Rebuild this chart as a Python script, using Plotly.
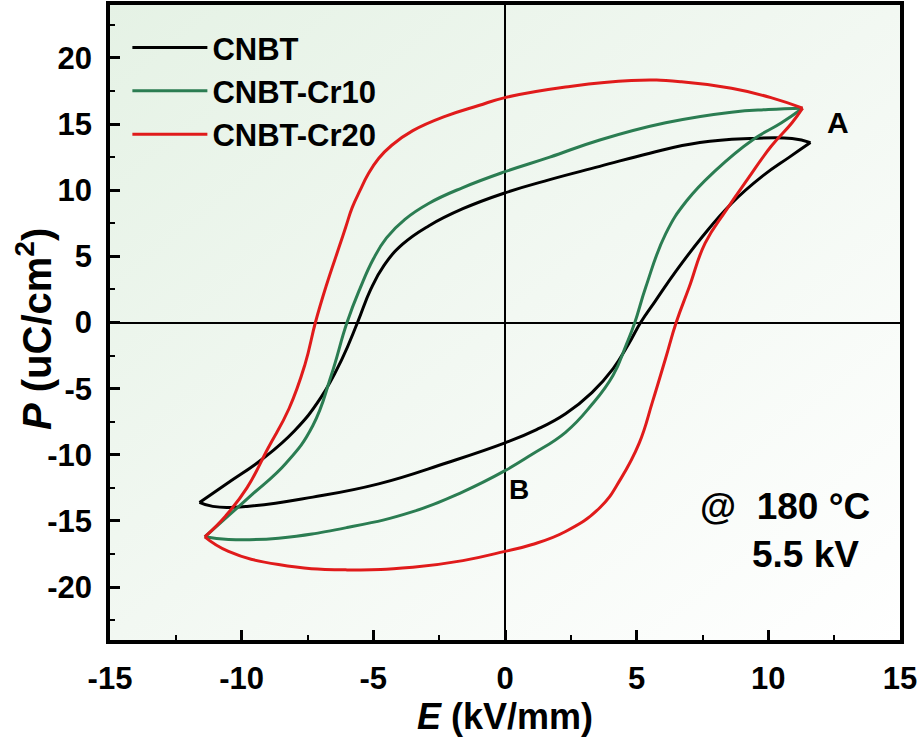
import base64
import plotly.graph_objects as go

# ---------------- data ----------------
names = ["CNBT", "CNBT-Cr10", "CNBT-Cr20"]
colors = ["#000000", "#2b7d52", "#e01b1b"]

# CNBT: upper branch (E decreasing), lower branch (E increasing)
cnbt_up_E = [11.6, 10.9, 9.3, 7.4, 5.5, 3.6, 1.7, 0.0, -1.6, -2.9, -3.9, -4.6, -5.1, -5.6, -6.2, -7.0, -8.0, -9.2, -10.5, -11.6]
cnbt_up_P = [13.6, 13.9, 13.9, 13.6, 12.8, 11.8, 10.8, 9.8, 8.6, 7.3, 5.9, 4.3, 2.5, 0.0, -2.8, -5.7, -8.2, -10.3, -12.1, -13.6]
cnbt_lo_E = [-11.6, -11.1, -9.8, -7.3, -4.8, -2.2, 0.0, 1.2, 2.3, 3.3, 4.1, 4.7, 5.15, 5.7, 6.5, 7.5, 8.6, 9.8, 10.8, 11.6]
cnbt_lo_P = [-13.6, -13.9, -13.9, -13.2, -12.2, -10.6, -9.1, -8.1, -6.9, -5.3, -3.5, -1.6, 0.0, 1.6, 3.9, 6.5, 9.0, 11.1, 12.5, 13.6]

# CNBT-Cr10
cr10_up_E = [11.3, 10.0, 8.6, 6.1, 3.6, 1.7, 0.0, -1.6, -2.9, -3.8, -4.5, -5.0, -5.5, -6.0, -6.6, -7.3, -8.3, -9.6, -10.5, -11.4]
cr10_up_P = [16.2, 16.1, 15.9, 15.1, 13.8, 12.5, 11.4, 10.2, 9.0, 7.8, 6.4, 4.8, 2.6, 0.0, -4.0, -7.8, -10.6, -13.0, -14.6, -16.2]
cr10_lo_E = [-11.4, -10.5, -8.6, -6.0, -3.5, -1.6, 0.0, 1.0, 2.3, 3.3, 4.1, 4.6, 4.93, 5.35, 6.1, 6.9, 8.0, 9.4, 10.5, 11.3]
cr10_lo_P = [-16.2, -16.4, -16.3, -15.5, -14.3, -12.8, -11.2, -10.0, -8.3, -6.2, -4.0, -1.7, 0.0, 2.7, 6.7, 9.2, 11.5, 13.8, 15.1, 16.2]

# CNBT-Cr20
cr20_up_E = [11.3, 10.1, 8.6, 6.7, 4.8, 2.3, 0.0, -1.0, -2.25, -3.5, -4.3, -4.8, -5.2, -5.5, -5.8, -6.05, -6.3, -6.8, -7.2, -7.6, -8.2, -9.0, -9.8, -10.6, -11.4]
cr20_up_P = [16.2, 17.0, 17.7, 18.2, 18.3, 17.8, 17.0, 16.4, 15.6, 14.5, 13.4, 12.4, 11.2, 10.0, 8.7, 7.2, 5.7, 2.7, 0.0, -3.2, -6.5, -9.5, -12.5, -14.6, -16.2]
cr20_lo_E = [-11.4, -10.5, -8.6, -6.0, -3.5, -1.6, 0.0, 1.0, 2.3, 3.6, 4.4, 5.1, 5.6, 6.1, 6.5, 7.0, 7.6, 8.4, 9.2, 10.1, 10.9, 11.3]
cr20_lo_P = [-16.2, -17.3, -18.3, -18.7, -18.5, -18.0, -17.3, -16.8, -15.8, -14.0, -11.8, -9.1, -6.0, -2.7, 0.0, 2.7, 6.0, 8.5, 10.8, 13.3, 15.1, 16.2]

x_ticks = [-15, -10, -5, 0, 5, 10, 15]
x_ticktext = ["-15", "-10", "-5", "0", "5", "10", "15"]
y_ticks = [-20, -15, -10, -5, 0, 5, 10, 15, 20]
y_ticktext = ["-20", "-15", "-10", "-5", "0", "5", "10", "15", "20"]

branches = [
    (cnbt_up_E, cnbt_up_P, cnbt_lo_E, cnbt_lo_P),
    (cr10_up_E, cr10_up_P, cr10_lo_E, cr10_lo_P),
    (cr20_up_E, cr20_up_P, cr20_lo_E, cr20_lo_P),
]

FONT = "Liberation Sans, Arial, sans-serif"

fig = go.Figure()
for name, col, (ue, up, le, lp) in zip(names, colors, branches):
    fig.add_trace(go.Scatter(x=ue, y=up, mode="lines", name=name, legendgroup=name,
                             line=dict(color=col, width=3, shape="spline", smoothing=1.3)))
    fig.add_trace(go.Scatter(x=le, y=lp, mode="lines", name=name, legendgroup=name, showlegend=False,
                             line=dict(color=col, width=3, shape="spline", smoothing=1.3)))

# gradient background (light green top-left -> white bottom-right)
svg = ('<svg xmlns="http://www.w3.org/2000/svg" width="200" height="200" preserveAspectRatio="none">'
       '<defs><linearGradient id="g" x1="0" y1="0" x2="1" y2="1">'
       '<stop offset="0" stop-color="#e5f2e5"/><stop offset="0.5" stop-color="#f2f8f2"/>'
       '<stop offset="1" stop-color="#ffffff"/></linearGradient></defs>'
       '<rect width="200" height="200" fill="url(#g)"/></svg>')
src = "data:image/svg+xml;base64," + base64.b64encode(svg.encode()).decode()
fig.add_layout_image(dict(source=src, xref="paper", yref="paper", x=0, y=1, sizex=1, sizey=1,
                          sizing="stretch", xanchor="left", yanchor="top", layer="below"))

axis_common = dict(
    showline=True, linecolor="black", linewidth=3.5, mirror=True,
    ticks="inside", ticklen=10, tickwidth=2.5, tickcolor="black",
    minor=dict(ticks="inside", ticklen=5, tickwidth=2, tickcolor="black"),
    showgrid=False, zeroline=True, zerolinecolor="black", zerolinewidth=1.5,
    tickfont=dict(family=FONT, size=31, color="black", weight="bold"),
    ticklabelstandoff=8,
)

fig.update_xaxes(range=[-15, 15], tickvals=x_ticks, ticktext=x_ticktext, minor_dtick=2.5,
                 title=dict(text="<i>E</i> (kV/mm)", standoff=6,
                            font=dict(family=FONT, size=36, color="black", weight="bold")),
                 **axis_common)
fig.update_yaxes(range=[-24, 24], tickvals=y_ticks, ticktext=y_ticktext, minor_dtick=2.5,
                 **axis_common)

# y-axis title placed as a rotated annotation (so it can sit close to the tick labels)
fig.add_annotation(xref="paper", yref="paper", x=-0.096, y=0.49, xanchor="center", yanchor="middle",
                   textangle=-90, text="<i>P</i> (uC/cm<sup>2</sup>)", showarrow=False,
                   font=dict(family=FONT, size=40, color="black", weight="bold"))

fig.add_annotation(x=12.65, y=15.1, text="A", showarrow=False,
                   font=dict(family=FONT, size=30, color="black", weight="bold"))
fig.add_annotation(x=0.55, y=-12.6, text="B", showarrow=False,
                   font=dict(family=FONT, size=28, color="black", weight="bold"))
fig.add_annotation(x=10.65, y=-13.9, text="@  180 °C", showarrow=False,
                   font=dict(family=FONT, size=37, color="black", weight="bold"))
fig.add_annotation(x=11.4, y=-17.5, text="5.5 kV", showarrow=False,
                   font=dict(family=FONT, size=37, color="black", weight="bold"))

fig.update_layout(
    width=921, height=738,
    margin=dict(l=110, r=21, t=5, b=98, autoexpand=False),
    paper_bgcolor="white", plot_bgcolor="rgba(0,0,0,0)",
    showlegend=True,
    legend=dict(x=0.022, y=0.975, xanchor="left", yanchor="top", bgcolor="rgba(0,0,0,0)",
                itemwidth=75, tracegroupgap=0,
                font=dict(family=FONT, size=31, color="black", weight="bold")),
)

fig.write_html("out.html")
